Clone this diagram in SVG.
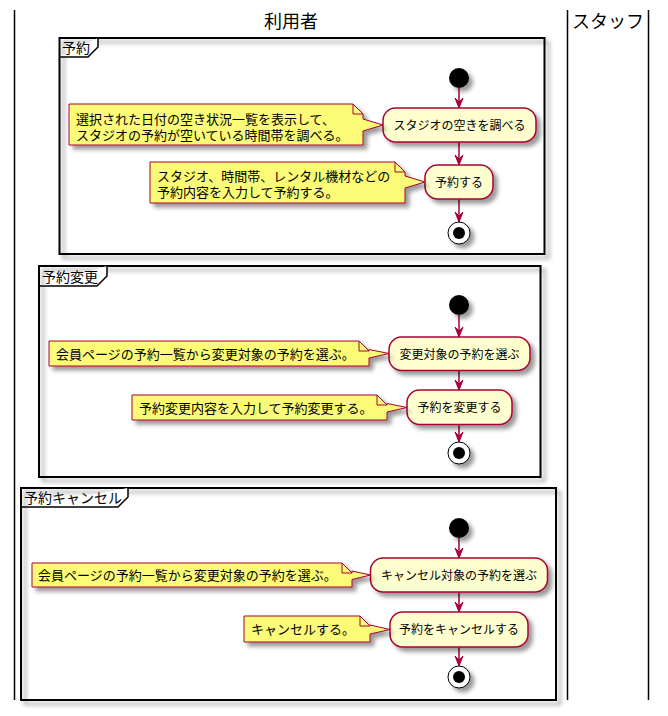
<svg xmlns="http://www.w3.org/2000/svg" width="668" height="716" viewBox="0 0 668 716">
<defs>
<filter id="sh" x="-1" y="-1" width="300%" height="300%"><feGaussianBlur result="b" stdDeviation="2"/><feColorMatrix in="b" result="b2" type="matrix" values="0 0 0 0 0 0 0 0 0 0 0 0 0 0 0 0 0 0 .4 0"/><feOffset dx="4" dy="4" in="b2" result="b3"/><feBlend in="SourceGraphic" in2="b3" mode="normal"/></filter>
<marker id="ah" markerWidth="12" markerHeight="10" viewBox="-11 -5 12 10" refX="0" refY="0" orient="auto" markerUnits="userSpaceOnUse"><polygon points="-10,-4 0,0 -10,4 -6,0" fill="#A80036" stroke="#A80036" stroke-width="1"/></marker>
</defs>
<style>
text{font-family:"Noto Sans CJK JP","Noto Sans",sans-serif;fill:#000}
.lane{stroke:#000;stroke-width:1.5;fill:none}
.title{font-size:18px}
.frame{fill:none;stroke:#000;stroke-width:2;filter:url(#sh)}
.tab{fill:#fff;stroke:#000;stroke-width:1.5}
.flabel{font-size:14px}
.act{fill:#FEFECE;stroke:#A80036;stroke-width:1.5;filter:url(#sh)}
.atext{font-size:12px;text-anchor:middle}
.note{fill:#FBFB77;stroke:#A80036;stroke-width:1;filter:url(#sh)}
.fold{fill:none;stroke:#A80036;stroke-width:1}
.ntext{font-size:13px}
.start{fill:#000;filter:url(#sh)}
.endo{fill:#fff;stroke:#000;stroke-width:1;filter:url(#sh)}
.endi{fill:#000}
.arr{stroke:#A80036;stroke-width:1.5;fill:none;marker-end:url(#ah)}
</style>
<rect width="668" height="716" fill="#fff"/>
<g id="lanes">
<line class="lane" x1="14.5" y1="10" x2="14.5" y2="700"/>
<line class="lane" x1="567.5" y1="10" x2="567.5" y2="700"/>
<line class="lane" x1="648.5" y1="10" x2="648.5" y2="700"/>
<text class="title" x="291" y="28" text-anchor="middle">利用者</text>
<text class="title" x="572" y="28">スタッフ</text>
</g>
<g id="frame-yoyaku">
<rect class="frame" x="59.5" y="38" width="485" height="216"/>
<path class="tab" d="M59.5,57 L88,57 L98,47 L98,38"/>
<text class="flabel" x="62" y="53">予約</text>
</g>
<g id="frame-henkou">
<rect class="frame" x="39" y="266" width="501.5" height="211"/>
<path class="tab" d="M39,286 L97,286 L107,276 L107,266"/>
<text class="flabel" x="42" y="281.5">予約変更</text>
</g>
<g id="frame-cancel">
<rect class="frame" x="21" y="488" width="535" height="212"/>
<path class="tab" d="M21,507 L118,507 L128,497 L128,488"/>
<text class="flabel" x="24" y="502.5">予約キャンセル</text>
</g>
<g id="connectors">
<line class="arr" x1="459" y1="88" x2="459" y2="108"/>
<line class="arr" x1="459" y1="142" x2="459" y2="165"/>
<line class="arr" x1="459" y1="199" x2="459" y2="222"/>
<line class="arr" x1="459" y1="315" x2="459" y2="337"/>
<line class="arr" x1="459" y1="370.5" x2="459" y2="390"/>
<line class="arr" x1="459" y1="424.5" x2="459" y2="442"/>
<line class="arr" x1="459" y1="538" x2="459" y2="558"/>
<line class="arr" x1="459" y1="592" x2="459" y2="612"/>
<line class="arr" x1="459" y1="647" x2="459" y2="666"/>
</g>
<g id="start1"><circle class="start" cx="459" cy="78" r="10"/></g>
<g id="act-shirabe"><rect class="act" x="383" y="108" width="153" height="34" rx="12.5"/><text class="atext" x="459.5" y="129.5">スタジオの空きを調べる</text></g>
<g id="act-yoyaku"><rect class="act" x="425" y="165" width="68" height="34" rx="12.5"/><text class="atext" x="459" y="186.5">予約する</text></g>
<g id="end1"><circle class="endo" cx="459" cy="233" r="11"/><circle class="endi" cx="459" cy="233" r="6"/></g>
<g id="note-shirabe">
<path class="note" d="M69,104 L353,104 L363,114 L363,119 L383,125 L363,131 L363,145 L69,145 Z"/>
<path class="fold" d="M353,104 L353,114 L363,114"/>
<text class="ntext"><tspan x="76" y="123.5">選択された日付の空き状況一覧を表示して、</tspan><tspan x="76" y="139.5">スタジオの予約が空いている時間帯を調べる。</tspan></text>
</g>
<g id="note-yoyaku">
<path class="note" d="M150,162 L395,162 L405,172 L405,176 L425,182 L405,188 L405,203 L150,203 Z"/>
<path class="fold" d="M395,162 L395,172 L405,172"/>
<text class="ntext"><tspan x="157" y="181">スタジオ、時間帯、レンタル機材などの</tspan><tspan x="157" y="197">予約内容を入力して予約する。</tspan></text>
</g>
<g id="start2"><circle class="start" cx="459" cy="305" r="10"/></g>
<g id="act-henkou-sentaku"><rect class="act" x="389" y="337" width="141" height="33.5" rx="12.5"/><text class="atext" x="459.5" y="358.5">変更対象の予約を選ぶ</text></g>
<g id="act-henkou"><rect class="act" x="407" y="390" width="105" height="34.5" rx="12.5"/><text class="atext" x="459.5" y="412">予約を変更する</text></g>
<g id="end2"><circle class="endo" cx="459" cy="453" r="11"/><circle class="endi" cx="459" cy="453" r="6"/></g>
<g id="note-henkou-sentaku">
<path class="note" d="M49,341 L359,341 L369,351 L369,349.5 L389,353.5 L369,358 L369,366 L49,366 Z"/>
<path class="fold" d="M359,341 L359,351 L369,351"/>
<text class="ntext" x="56" y="358.5">会員ページの予約一覧から変更対象の予約を選ぶ。</text>
</g>
<g id="note-henkou">
<path class="note" d="M132,395 L377,395 L387,405 L387,403.5 L407,407.5 L387,412 L387,420 L132,420 Z"/>
<path class="fold" d="M377,395 L377,405 L387,405"/>
<text class="ntext" x="139" y="412.5">予約変更内容を入力して予約変更する。</text>
</g>
<g id="start3"><circle class="start" cx="459" cy="528" r="10"/></g>
<g id="act-cancel-sentaku"><rect class="act" x="370.5" y="558" width="177" height="34" rx="12.5"/><text class="atext" x="459" y="579.5">キャンセル対象の予約を選ぶ</text></g>
<g id="act-cancel"><rect class="act" x="390" y="612" width="138" height="35" rx="12.5"/><text class="atext" x="459" y="634">予約をキャンセルする</text></g>
<g id="end3"><circle class="endo" cx="459" cy="677" r="11"/><circle class="endi" cx="459" cy="677" r="6"/></g>
<g id="note-cancel-sentaku">
<path class="note" d="M32,563 L342,563 L352,573 L352,571 L370.5,575 L352,579.5 L352,587 L32,587 Z"/>
<path class="fold" d="M342,563 L342,573 L352,573"/>
<text class="ntext" x="38" y="580">会員ページの予約一覧から変更対象の予約を選ぶ。</text>
</g>
<g id="note-cancel">
<path class="note" d="M244,616 L360,616 L370,626 L370,625 L390,629.5 L370,634 L370,642 L244,642 Z"/>
<path class="fold" d="M360,616 L360,626 L370,626"/>
<text class="ntext" x="251" y="634">キャンセルする。</text>
</g>
</svg>
